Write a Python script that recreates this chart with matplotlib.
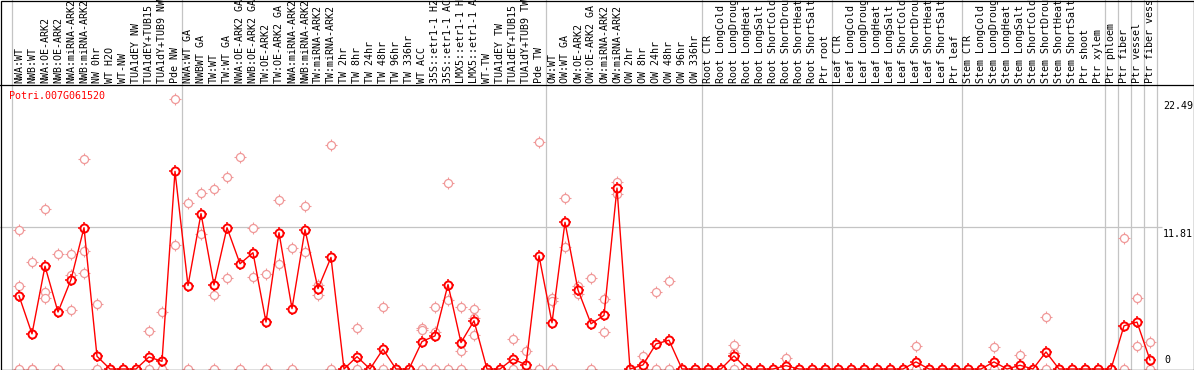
import matplotlib.pyplot as plt
from matplotlib.patches import Rectangle

# sample names, in plot order
labels = [
    "NWA:WT", "NWB:WT", "NWA:OE-ARK2", "NWB:OE-ARK2", "NWA:miRNA-ARK2", "NWB:miRNA-ARK2",
    "NW 0hr", "WT H2O", "WT-NW", "TUA1dEY NW", "TUA1dEY+TUB15 NW", "TUA1dY+TUB9 NW", "Pde NW",
    "NWA:WT GA", "NWBWT GA", "TW:WT", "TW:WT GA", "NWA:OE-ARK2 GA", "NWB:OE-ARK2 GA",
    "TW:OE-ARK2", "TW:OE-ARK2 GA", "NWA:miRNA-ARK2", "NWB:miRNA-ARK2", "TW:miRNA-ARK2",
    "TW:miRNA-ARK2", "TW 2hr", "TW 8hr", "TW 24hr", "TW 48hr", "TW 96hr", "TW 336hr",
    "WT ACC", "35S::etr1-1 H2O", "35S::etr1-1 ACC", "LMX5::etr1-1 H2O", "LMX5::etr1-1 ACC",
    "WT-TW", "TUA1dEY TW", "TUA1dEY+TUB15 TW", "TUA1dY+TUB9 TW", "Pde TW",
    "OW:WT", "OW:WT GA", "OW:OE-ARK2", "OW:OE-ARK2 GA", "OW:miRNA-ARK2", "OW:miRNA-ARK2",
    "OW 2hr", "OW 8hr", "OW 24hr", "OW 48hr", "OW 96hr", "OW 336hr",
    "Root CTR", "Root LongCold", "Root LongDrought", "Root LongHeat", "Root LongSalt",
    "Root ShortCold", "Root ShortDrought", "Root ShortHeat", "Root ShortSalt", "Ptr root",
    "Leaf CTR", "Leaf LongCold", "Leaf LongDrought", "Leaf LongHeat", "Leaf LongSalt",
    "Leaf ShortCold", "Leaf ShortDrought", "Leaf ShortHeat", "Leaf ShortSalt", "Ptr leaf",
    "Stem CTR", "Stem LongCold", "Stem LongDrought", "Stem LongHeat", "Stem LongSalt",
    "Stem ShortCold", "Stem ShortDrought", "Stem ShortHeat", "Stem ShortSalt", "Ptr shoot",
    "Ptr xylem", "Ptr phloem", "Ptr fiber", "Ptr vessel", "Ptr fiber vessel",
]

# mean expression (red line)
means = [
    6.1, 2.93, 8.57, 4.75, 7.45, 11.78, 1.06, 0, 0, 0, 1.0, 0.64, 16.47,
    6.95, 12.95, 7.0, 11.78, 8.77, 9.69, 3.91, 11.36, 5.03, 11.62, 6.7, 9.3,
    0, 1.03, 0, 1.65, 0, 0, 2.29, 2.76, 7.04, 2.2, 4.02, 0, 0, 0.84, 0.34, 9.44,
    3.85, 12.23, 6.59, 3.77, 4.47, 15.08, 0, 0.34, 2.09, 2.4, 0, 0,
    0, 0, 1.09, 0, 0, 0, 0.28, 0, 0, 0,
    0, 0, 0, 0, 0, 0, 0.59, 0, 0, 0,
    0, 0, 0.59, 0, 0.31, 0, 1.42, 0, 0, 0, 0,
    0, 3.6, 3.91, 0.75,
]

# replicate values (pink circles)
replicates = [
    [11.55, 6.95, 0], [8.94, 0, 0], [13.37, 6.45, 5.92], [9.6, 0], [9.55, 7.87, 4.94],
    [17.47, 9.8, 8.04], [5.42, 0], [0], [0], [0], [3.18, 0], [4.77, 0], [22.49, 10.3],
    [13.87, 0], [14.63, 11.22], [14.96, 6.17, 0], [15.97, 7.62], [17.64, 0], [11.78, 7.7],
    [7.93, 0], [14.07, 8.77], [10.05, 0], [13.57, 9.77], [7.04, 6.2], [18.68, 0],
    [0], [3.4, 0], [0], [5.19, 0], [0], [0], [3.4, 3.21, 0], [5.19, 3.12, 0],
    [15.47, 5.78, 0], [5.19, 1.5, 0], [5.03, 4.25, 2.85], [0], [0], [2.51, 0], [1.5, 0],
    [18.9, 0],
    [5.92, 5.7, 0], [14.21, 10.19], [6.95, 6.28], [7.59, 0], [5.86, 3.07], [15.58, 14.57],
    [0], [1.09, 0], [6.42, 0], [7.34, 0], [0], [0],
    [0], [0], [2.01, 1.37, 0], [0], [0], [0], [0.92, 0], [0], [0], [0],
    [0], [0], [0], [0], [0], [0], [1.9, 0], [0], [0], [0],
    [0], [0], [1.84, 0], [0], [1.15, 0], [0], [4.36, 0], [0], [0], [0], [0],
    [0], [10.94, 0], [5.95, 1.93], [2.23, 0],
]

# group separators (between samples)
group_bounds = [-0.5, 12.5, 40.5, 52.5, 62.5, 72.5, 83.5, 84.5, 85.5, 86.5, 87.5]
yticks = [22.49, 11.81, 0]
grid_value = 11.81
gene = "Potri.007G061520"

red = "#ff0000"
pink = "#f09898"
gray = "#c4c4c4"
mono = "DejaVu Sans Mono"

W, H = 1194, 370
step = 13.0      # px per sample
x0 = 19.0        # px of first sample
ppu = 12.0       # px per unit of expression
base = 369.0     # px row of value 0
head = 85.0      # px row of header line

fig = plt.figure(figsize=(W / 100, H / 100), dpi=100)
ax = fig.add_axes([0, 0, 1, 1])
ax.set_xlim(-x0 / step, (W - x0) / step)
ax.set_ylim(-(H - base) / ppu, base / ppu)
ax.axis("off")

ytop = base / ppu
yhead = (base - head) / ppu
n = len(labels)
xs = list(range(n))

ax.vlines(group_bounds, -1, ytop + 1, color=gray, lw=0.9, zorder=1)
ax.hlines(grid_value, -1.6, (1162 - x0) / step, color=gray, lw=0.9, zorder=1)
ax.axhline(yhead, color="black", lw=0.9, zorder=5)

# replicates
rx, ry = [], []
for i, reps in enumerate(replicates):
    rx += [i] * len(reps)
    ry += reps
ax.plot(rx, ry, ls="none", marker="+", ms=8, mew=0.8, color=pink, zorder=2)
ax.plot(rx, ry, ls="none", marker="o", ms=5.8, mfc="white", mec=pink, mew=0.9, zorder=2.1)

# means
ax.plot(xs, means, ls="none", marker="+", ms=8.5, mew=1.1, color=red, zorder=3)
ax.plot(xs, means, ls="none", marker="o", ms=5.8, mfc="white", mec=red, mew=1.4, zorder=3.1)
ax.plot(xs, means, color=red, lw=1.0, zorder=3.2)

# sample labels in header
ylab = (base - 83) / ppu
for i, lab in enumerate(labels):
    ax.text(i, ylab, lab, rotation=90, ha="center", va="bottom",
            fontsize=7.2, family=mono, clip_on=False)

# right-hand value labels
xr = (1163 - x0) / step
for v in yticks:
    if v == 0:
        ax.annotate("0", (xr + 0.1, v), xytext=(0, 4), textcoords="offset pixels",
                    ha="left", va="bottom", fontsize=7.2, family=mono)
    else:
        ax.annotate(f"{v:.2f}", (xr, v), xytext=(0, -2), textcoords="offset pixels",
                    ha="left", va="top", fontsize=7.2, family=mono)

fig.text(9 / W, 1 - 91 / H, gene, color=red, ha="left", va="top", fontsize=7.2, family=mono)

fig.add_artist(Rectangle((0.5 / W, 0.5 / H), 1 - 1 / W, 1 - 1 / H, transform=fig.transFigure,
                         fill=False, ec="black", lw=0.9, zorder=6))

fig.savefig("out.png", dpi=100)
